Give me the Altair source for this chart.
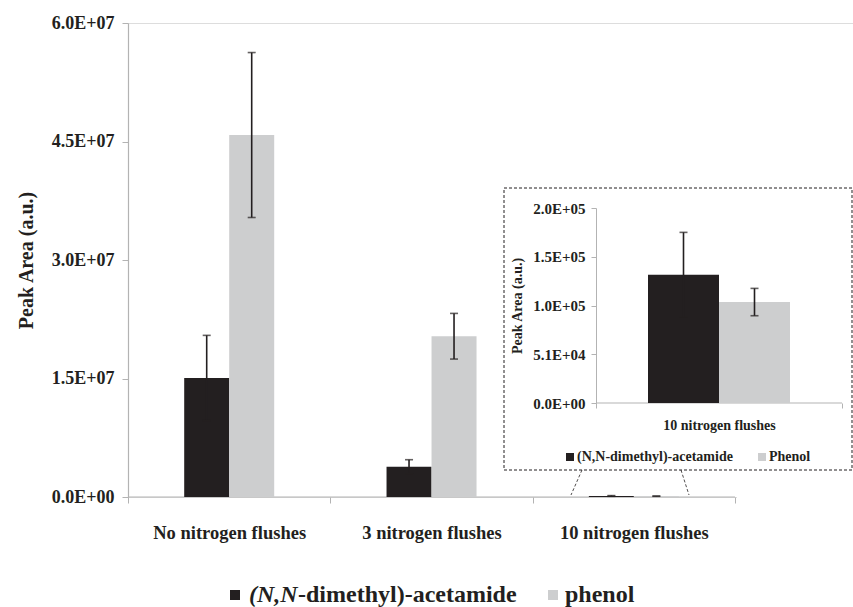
import altair as alt
import pandas as pd

# ---------------- data ----------------
categories = ["No nitrogen flushes", "3 nitrogen flushes", "10 nitrogen flushes"]
series = ["(N,N-dimethyl)-acetamide", "phenol"]
dma_values = [1.506e7, 3.83e6, 1.342e5]
dma_errors = [5.4e6, 8.9e5, 4.43e4]
phenol_values = [4.582e7, 2.035e7, 1.056e5]
phenol_errors = [1.044e7, 2.89e6, 1.43e4]

main_ticks = [0, 1.5e7, 3.0e7, 4.5e7, 6.0e7]
main_tick_labels = ["0.0E+00", "1.5E+07", "3.0E+07", "4.5E+07", "6.0E+07"]
inset_category = "10 nitrogen flushes"
inset_ticks = [0, 51000, 102000, 153000, 204000]
inset_tick_labels = ["0.0E+00", "5.1E+04", "1.0E+05", "1.5E+05", "2.0E+05"]

main_legend_italic = "(N,N"
main_legend_rest = "-dimethyl)-acetamide"
main_legend_second = "phenol"
inset_legend_first = "(N,N-dimethyl)-acetamide"
inset_legend_second = "Phenol"

# ---------------- styles ----------------
BLACK = "#231f20"
GRAY = "#cdcecf"
AXIS = "#b3b3b3"
FONT = "Liberation Serif"

rows = []
for i, c in enumerate(categories):
    for s, vals, errs in ((series[0], dma_values, dma_errors), (series[1], phenol_values, phenol_errors)):
        rows.append({"category": c, "series": s, "value": vals[i],
                     "lo": vals[i] - errs[i], "hi": vals[i] + errs[i]})
df = pd.DataFrame(rows)


def label_expr(ticks, labels):
    expr = "''"
    for t, l in reversed(list(zip(ticks, labels))):
        expr = f"abs(datum.value - {t}) < 1 ? '{l}' : ({expr})"
    return expr


# plot origin (absolute px) = (128, 23); plot size 725 x 474
OX, OY = 128, 23
W, H = 725, 474
MAIN_X_END = 607
IX0, IX1 = 596 - OX, 842 - OX
IY0, IY1 = 403 - OY, 208 - OY

color = alt.Color("series:N", scale=alt.Scale(domain=series, range=[BLACK, GRAY]), legend=None)
one = pd.DataFrame({"k": [0]})

# ---------- main chart ----------
main_x_axis = alt.Axis(title=None, labelAngle=0, tickBand="extent", domain=False, tickColor=AXIS,
                       tickSize=6, labelFont=FONT, labelFontWeight="bold", labelFontSize=18.5,
                       labelColor=BLACK, labelPadding=20)
main_y_axis = alt.Axis(values=main_ticks, labelExpr=label_expr(main_ticks, main_tick_labels),
                       title="Peak Area (a.u.)", titleFont=FONT, titleFontWeight="bold", titleFontSize=20,
                       titleColor=BLACK, titlePadding=15, grid=False, domainColor=AXIS, tickColor=AXIS,
                       tickSize=6, labelFont=FONT, labelFontWeight="bold", labelFontSize=18,
                       labelColor=BLACK, labelPadding=8, domainWidth=1.2)

mx = alt.X("category:N", scale=alt.Scale(domain=categories, range=[0, MAIN_X_END],
                                         paddingInner=0, paddingOuter=0), axis=main_x_axis)
mxo = alt.XOffset("series:N", scale=alt.Scale(domain=series, range=[56.2, 146.2],
                                              paddingInner=0, paddingOuter=0))
my_scale = alt.Scale(domain=[0, 6e7], nice=False)

cover = alt.Chart(one).mark_rule(color="white", strokeWidth=4).encode(
    x=alt.value(MAIN_X_END + 2), x2=alt.value(W), y=alt.value(H), y2=alt.value(H))
main_domain = alt.Chart(one).mark_rule(color=AXIS, strokeWidth=1.2).encode(
    x=alt.value(0), x2=alt.value(MAIN_X_END), y=alt.value(H), y2=alt.value(H))

base_main = alt.Chart(df)
main_bars = base_main.mark_bar().encode(
    x=mx, xOffset=mxo,
    y=alt.Y("value:Q", scale=my_scale, axis=main_y_axis),
    color=color)
main_rule = base_main.mark_rule(color=BLACK, strokeWidth=1.6).encode(
    x=mx, xOffset=mxo,
    y=alt.Y("lo:Q", scale=my_scale, axis=main_y_axis), y2="hi:Q")
main_cap_hi = base_main.mark_tick(color=BLACK, size=8, thickness=1.6).encode(
    x=mx, xOffset=mxo, y=alt.Y("hi:Q", scale=my_scale, axis=main_y_axis))
main_cap_lo = base_main.mark_tick(color=BLACK, size=8, thickness=1.6).encode(
    x=mx, xOffset=mxo, y=alt.Y("lo:Q", scale=my_scale, axis=main_y_axis))
main_layer = alt.layer(main_bars, main_rule, main_cap_hi, main_cap_lo)

# ---------- inset box ----------
box = alt.Chart(one).mark_rect(fill="white", stroke=BLACK, strokeWidth=1, strokeDash=[3, 2]).encode(
    x=alt.value(504 - OX), x2=alt.value(852 - OX), y=alt.value(188 - OY), y2=alt.value(470 - OY))
conn1 = alt.Chart(one).mark_rule(color=BLACK, strokeWidth=0.8, strokeDash=[3, 2]).encode(
    x=alt.value(582 - OX), x2=alt.value(571 - OX), y=alt.value(470 - OY), y2=alt.value(495 - OY))
conn2 = alt.Chart(one).mark_rule(color=BLACK, strokeWidth=0.8, strokeDash=[3, 2]).encode(
    x=alt.value(681 - OX), x2=alt.value(689 - OX), y=alt.value(470 - OY), y2=alt.value(495 - OY))
inset_domain = alt.Chart(one).mark_rule(color=AXIS, strokeWidth=1.2).encode(
    x=alt.value(IX0), x2=alt.value(IX1), y=alt.value(IY0), y2=alt.value(IY0))

# ---------- inset chart ----------
inset_x_axis = alt.Axis(orient="bottom", offset=-(H - IY0), title=None, labelAngle=0, tickBand="extent",
                        domain=False, tickColor=AXIS, tickSize=5, labelFont=FONT, labelFontWeight="bold",
                        labelFontSize=14, labelColor=BLACK, labelPadding=10, zindex=2)
inset_y_axis = alt.Axis(orient="left", offset=-IX0, values=inset_ticks,
                        labelExpr=label_expr(inset_ticks, inset_tick_labels),
                        title="Peak Area (a.u.)", titleFont=FONT, titleFontWeight="bold", titleFontSize=14,
                        titleColor=BLACK, titlePadding=8, grid=False, domainColor=AXIS, tickColor=AXIS,
                        tickSize=5, labelFont=FONT, labelFontWeight="bold", labelFontSize=15,
                        labelColor=BLACK, labelPadding=6, zindex=2)
ix = alt.X("category:N", scale=alt.Scale(domain=[inset_category], range=[IX0, IX1],
                                         paddingInner=0, paddingOuter=0), axis=inset_x_axis)
ixo = alt.XOffset("series:N", scale=alt.Scale(domain=series, range=[52, 194], paddingInner=0, paddingOuter=0))
iy_scale = alt.Scale(domain=[0, 204000], range=[IY0, IY1], nice=False)

base_inset = alt.Chart(df).transform_filter(alt.datum.category == inset_category)
inset_bars = base_inset.mark_bar().encode(
    x=ix, xOffset=ixo, y=alt.Y("value:Q", scale=iy_scale, axis=inset_y_axis), color=color)
inset_rule = base_inset.mark_rule(color=BLACK, strokeWidth=1.6).encode(
    x=ix, xOffset=ixo, y=alt.Y("lo:Q", scale=iy_scale, axis=inset_y_axis), y2="hi:Q")
inset_cap_hi = base_inset.mark_tick(color=BLACK, size=8, thickness=1.6).encode(
    x=ix, xOffset=ixo, y=alt.Y("hi:Q", scale=iy_scale, axis=inset_y_axis))
inset_cap_lo = base_inset.mark_tick(color=BLACK, size=8, thickness=1.6).encode(
    x=ix, xOffset=ixo, y=alt.Y("lo:Q", scale=iy_scale, axis=inset_y_axis))
inset_layer = alt.layer(inset_bars, inset_rule, inset_cap_hi, inset_cap_lo)

# ---------- legends (drawn) ----------
def sq(xc, yc, col, size):
    return alt.Chart(one).mark_square(color=col, size=size, opacity=1).encode(
        x=alt.value(xc - OX), y=alt.value(yc - OY))


def txt(x0, yc, t, size, style="normal"):
    return alt.Chart(one).mark_text(text=t, align="left", baseline="middle", font=FONT, fontWeight="bold",
                                    fontStyle=style, fontSize=size, color=BLACK).encode(
        x=alt.value(x0 - OX), y=alt.value(yc - OY))


LY = 595
legend_main = [
    sq(235, LY, BLACK, 100),
    txt(249, LY, main_legend_italic, 24, "italic"),
    txt(298, LY, main_legend_rest, 24),
    sq(553, LY, GRAY, 100),
    txt(565, LY, main_legend_second, 24),
]
ILY = 457
legend_inset = [
    sq(570, ILY, BLACK, 64),
    txt(577, ILY, inset_legend_first, 14),
    sq(762, ILY, GRAY, 64),
    txt(769, ILY, inset_legend_second, 14),
]

chart = alt.layer(main_domain, main_layer, box, conn1, conn2, inset_domain, inset_layer,
                  *legend_main, *legend_inset, cover).resolve_scale(
    x="independent", y="independent", xOffset="independent"
).properties(
    width=W, height=H,
    autosize=alt.AutoSizeParams(type="none"),
    padding={"left": OX, "top": OY, "right": 0, "bottom": 607 - OY - H},
).configure_view(stroke=None).configure(background="white")

chart.save("out.html", embed_options={"renderer": "svg", "actions": False})
